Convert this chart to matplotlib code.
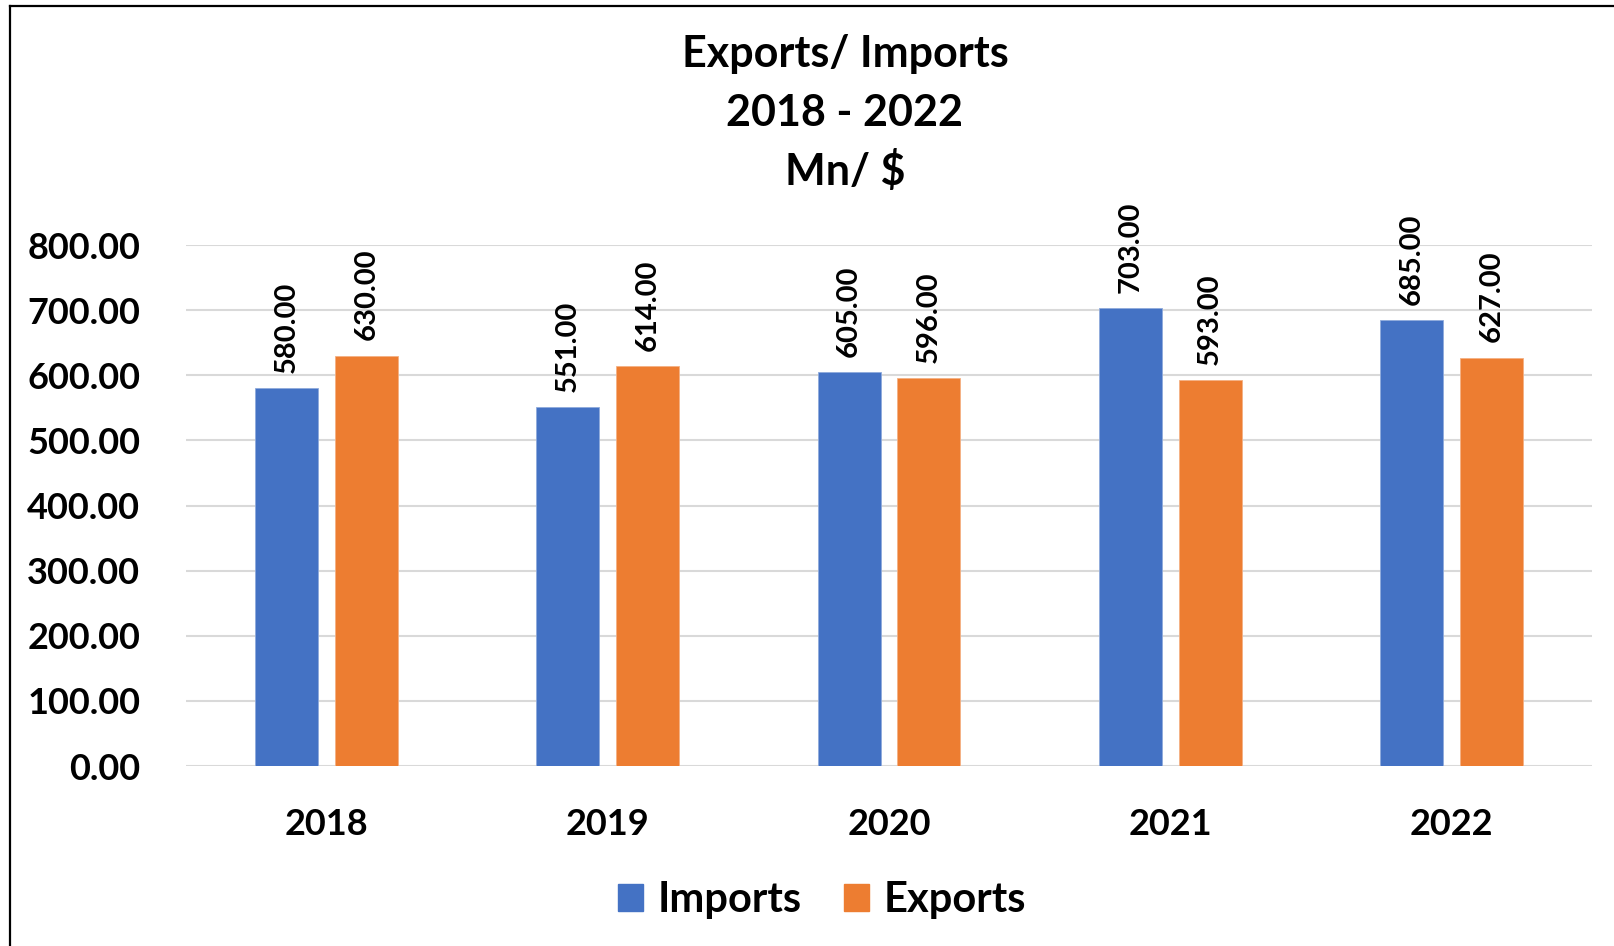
import numpy as np
import matplotlib
matplotlib.use('Agg')
from matplotlib import pyplot as plt
from matplotlib.lines import Line2D
from matplotlib.patches import Patch

years = ['2018', '2019', '2020', '2021', '2022']
imports = [580, 551, 605, 703, 685]
exports = [630, 614, 596, 593, 627]
yticks = [0, 100, 200, 300, 400, 500, 600, 700, 800]

blue = '#4472C4'
orange = '#ED7D31'

plt.rcParams['font.family'] = ['Lato', 'DejaVu Sans']
plt.rcParams['font.weight'] = 'bold'

fig = plt.figure(figsize=(16.14, 9.46), dpi=100)
ax = fig.add_axes([186/1614, 1-766/946, 1406/1614, (766-245)/946])

x = np.arange(len(years))
w = 0.224
off = 0.142
b1 = ax.bar(x - off, imports, w, color=blue, edgecolor='#8FAADC', linewidth=0.6, zorder=3, label='Imports')
b2 = ax.bar(x + off, exports, w, color=orange, edgecolor='#F4B183', linewidth=0.6, zorder=3, label='Exports')

for bars, vals in [(b1, imports), (b2, exports)]:
	for r, v in zip(bars, vals):
		ax.annotate('{:.2f}'.format(v), (r.get_x()+r.get_width()/2, v), xytext=(0, 11),
			textcoords='offset points', rotation=90, ha='center', va='bottom',
			fontsize=21, fontweight='bold', annotation_clip=False)

ax.set_xlim(-0.5, len(years)-0.5)
ax.set_ylim(0, 800)
ax.set_yticks(yticks)
ax.set_yticklabels(['{:.2f}'.format(v) for v in yticks], fontsize=26, fontweight='bold')
ax.set_xticks(x)
ax.set_xticklabels(years, fontsize=26, fontweight='bold')
ax.tick_params(axis='y', length=0, pad=33)
ax.tick_params(axis='x', length=0, pad=30)
ax.grid(axis='y', color='#D9D9D9', linewidth=1.5, zorder=0)
for s in ax.spines.values():
	s.set_visible(False)

# three title lines
fig.text(845/1614, 1-54/946, 'Exports/ Imports', ha='center', va='center', fontsize=31, fontweight='bold')
fig.text(845/1614, 1-113/946, '2018 - 2022', ha='center', va='center', fontsize=31, fontweight='bold')
fig.text(845/1614, 1-171/946, 'Mn/ $', ha='center', va='center', fontsize=31, fontweight='bold')

handles = [Patch(color=blue, label='Imports'), Patch(color=orange, label='Exports')]
fig.legend(handles=handles, loc='center', bbox_to_anchor=(822/1614, 1-900/946), ncol=2,
	frameon=False, handlelength=0.6, handleheight=0.6, handletextpad=0.35,
	columnspacing=1.0, prop={'weight': 'bold', 'size': 30})

# frame lines (left and top only)
fig.add_artist(Line2D([10/1614, 10/1614], [0, 1-6/946], color='black', linewidth=1.6))
fig.add_artist(Line2D([10/1614, 1], [1-6/946, 1-6/946], color='black', linewidth=1.6))

fig.savefig('out.png', dpi=100)
